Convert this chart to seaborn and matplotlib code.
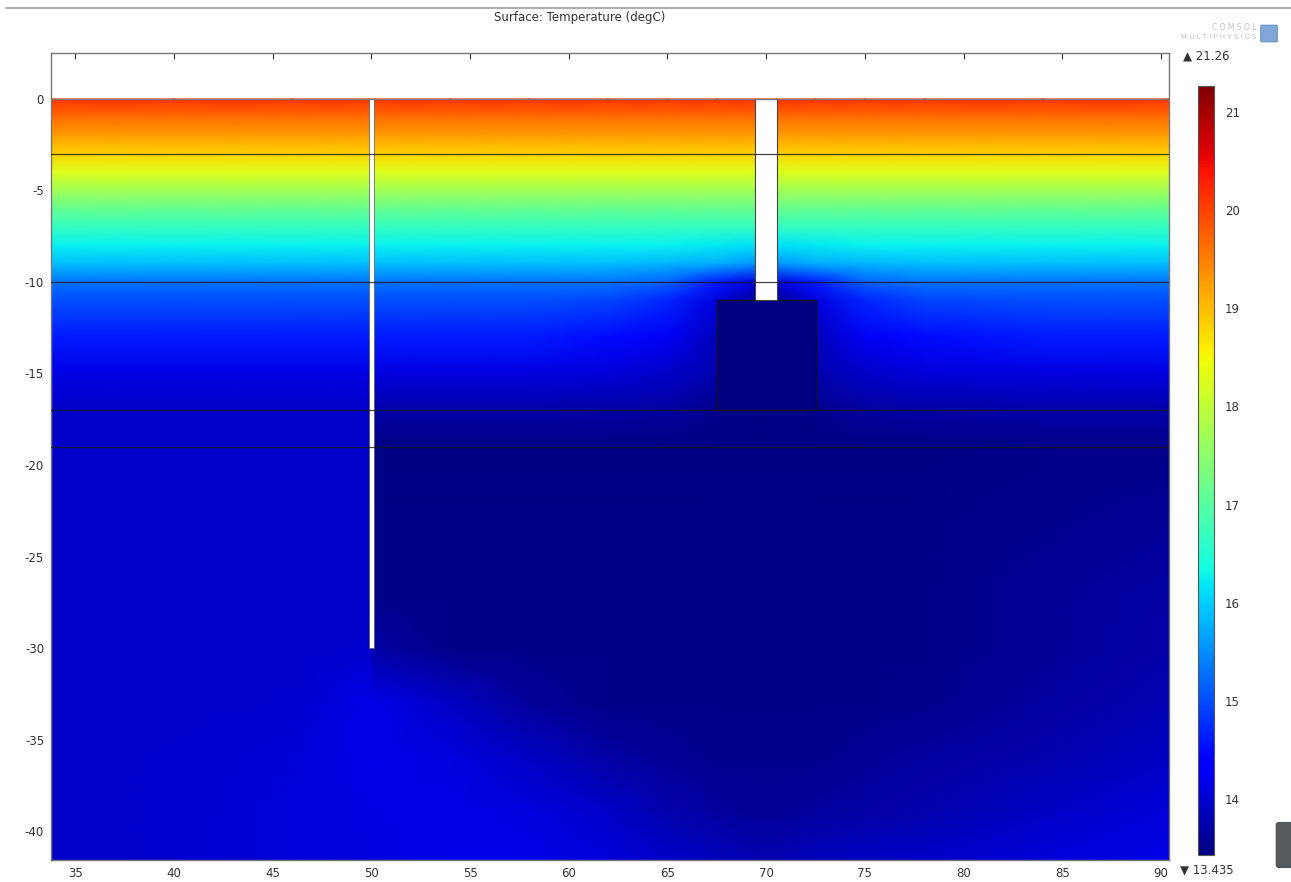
import numpy as np
import pandas as pd
import matplotlib
matplotlib.use("Agg")
import matplotlib.pyplot as plt
import seaborn as sns
from matplotlib.colors import Normalize
from matplotlib.patches import Rectangle, FancyBboxPatch
from matplotlib.lines import Line2D

# ---------------- data ----------------
title = "Surface: Temperature (degC)"
t_min, t_max = 13.435, 21.26
cbar_ticks = [14, 15, 16, 17, 18, 19, 20, 21]
x_ticks = [35, 40, 45, 50, 55, 60, 65, 70, 75, 80, 85, 90]
y_ticks = [0, -5, -10, -15, -20, -25, -30, -35, -40]

# sample columns (x, m) and rows (depth, m) of the temperature field
x_nodes = [33.78, 40, 46, 49.9, 50.15, 54, 58, 62, 65, 67.5, 69.45, 70.55, 72.5, 75, 78, 84, 90.4]
y_nodes = [0, -1, -2, -3, -4, -5, -6, -7, -8, -9, -10, -11, -13, -15, -17, -19,
           -23, -27, -30, -33, -36, -39, -41.58]

temperature = [
    [20.1] * 17,
    [19.65] * 17,
    [19.25] * 17,
    [18.8] * 17,
    [18.25] * 17,
    [17.7] * 17,
    [17.15] * 17,
    [16.65] * 17,
    [16.25, 16.25, 16.25, 16.25, 16.25, 16.25, 16.25, 16.25, 16.25, 16.2, 16.15, 16.15, 16.2, 16.25, 16.25, 16.25, 16.25],
    [15.85, 15.85, 15.85, 15.85, 15.85, 15.85, 15.85, 15.85, 15.8, 15.75, 15.55, 15.55, 15.75, 15.8, 15.85, 15.85, 15.85],
    [15.3, 15.3, 15.3, 15.3, 15.3, 15.3, 15.3, 15.3, 15.15, 14.6, 14.1, 14.1, 14.6, 15.15, 15.3, 15.3, 15.3],
    [15.0, 15.0, 15.0, 15.0, 15.0, 15.0, 15.0, 14.95, 14.7, 14.1, 13.6, 13.6, 14.1, 14.7, 14.95, 15.0, 15.0],
    [14.6, 14.6, 14.6, 14.6, 14.6, 14.6, 14.6, 14.5, 14.25, 13.85, 13.5, 13.5, 13.85, 14.25, 14.5, 14.6, 14.6],
    [14.13, 14.13, 14.13, 14.13, 14.1, 14.1, 14.08, 14.05, 13.95, 13.75, 13.5, 13.5, 13.75, 13.95, 14.05, 14.1, 14.13],
    [13.95, 13.95, 13.95, 13.95, 13.72, 13.72, 13.72, 13.7, 13.65, 13.55, 13.5, 13.5, 13.55, 13.65, 13.7, 13.72, 13.72],
    [13.95, 13.95, 13.95, 13.95, 13.47, 13.47, 13.47, 13.47, 13.47, 13.47, 13.47, 13.47, 13.47, 13.47, 13.48, 13.5, 13.52],
    [13.95, 13.95, 13.95, 13.95, 13.5, 13.5, 13.5, 13.5, 13.5, 13.5, 13.5, 13.5, 13.5, 13.5, 13.5, 13.55, 13.6],
    [13.95, 13.95, 13.95, 13.95, 13.52, 13.5, 13.5, 13.5, 13.5, 13.5, 13.5, 13.5, 13.5, 13.5, 13.52, 13.6, 13.68],
    [13.95, 13.95, 13.95, 13.98, 13.7, 13.5, 13.5, 13.5, 13.5, 13.5, 13.5, 13.5, 13.5, 13.5, 13.52, 13.6, 13.72],
    [13.95, 13.95, 13.98, 14.15, 14.15, 13.9, 13.62, 13.5, 13.5, 13.5, 13.5, 13.5, 13.5, 13.5, 13.55, 13.65, 13.8],
    [13.95, 13.96, 14.02, 14.15, 14.15, 14.1, 13.9, 13.7, 13.6, 13.55, 13.55, 13.55, 13.55, 13.6, 13.65, 13.75, 13.9],
    [13.95, 13.97, 14.05, 14.12, 14.12, 14.15, 14.1, 13.95, 13.75, 13.65, 13.6, 13.6, 13.65, 13.7, 13.75, 13.9, 14.05],
    [13.95, 13.98, 14.05, 14.1, 14.1, 14.15, 14.15, 14.05, 13.95, 13.85, 13.8, 13.8, 13.85, 13.9, 13.95, 14.05, 14.15],
]

box_temperature = 13.45
layer_depths = [-3, -10, -17, -19]

# geometry of the model
well_x = [49.9, 50.15]
well_bottom = -30
pipe_x = [69.45, 70.55]
pipe_bottom = -11
box_x = [67.5, 72.5]
box_y = [-17, -11]
x_lim = [33.78, 90.4]
y_lim = [-41.58, 2.51]

# ---------------- figure ----------------
sns.set_theme(style="ticks")
plt.rcParams["font.family"] = ["DejaVu Sans"]
plt.rcParams["axes.unicode_minus"] = False
plt.rcParams["axes.edgecolor"] = "#777777"

W, H = 1291, 882
fig = plt.figure(figsize=(W / 100, H / 100), dpi=100)
fig.patch.set_facecolor("white")
ax = fig.add_axes([51 / W, 1 - 860 / H, (1169 - 51) / W, (860 - 53) / H])
cax = fig.add_axes([1198 / W, 1 - 855 / H, 16 / W, (855 - 86) / H])
ax.set_facecolor("white")

cmap = plt.get_cmap("jet")
norm = Normalize(vmin=t_min, vmax=t_max)

X, Y = np.meshgrid(np.array(x_nodes), np.array(y_nodes))
Z = np.array(temperature)
mesh = ax.pcolormesh(X, Y, Z, shading="gouraud", cmap=cmap, norm=norm, zorder=1)

# cold box
ax.add_patch(Rectangle((box_x[0], box_y[0]), box_x[1] - box_x[0], box_y[1] - box_y[0],
                       facecolor=cmap(norm(box_temperature)), edgecolor="#111111",
                       lw=0.9, zorder=2))
# well and pipe (not part of the domain)
ax.add_patch(Rectangle((well_x[0], well_bottom), well_x[1] - well_x[0], -well_bottom,
                       facecolor="white", edgecolor="#555555", lw=0.5, zorder=3))
ax.add_patch(Rectangle((pipe_x[0], pipe_bottom), pipe_x[1] - pipe_x[0], -pipe_bottom,
                       facecolor="white", edgecolor="#444444", lw=0.8, zorder=3))

# layer boundaries drawn through seaborn
layers = pd.DataFrame({
    "x": [x_lim[0], x_lim[1]] * len(layer_depths),
    "y": [d for d in layer_depths for _ in range(2)],
    "layer": [i for i in range(len(layer_depths)) for _ in range(2)],
})
sns.lineplot(data=layers, x="x", y="y", units="layer", estimator=None,
             color="#1a1a1a", lw=0.9, alpha=0.8, ax=ax, zorder=4, legend=False)
ax.axhline(0, color="#777777", lw=0.9, zorder=4)

ax.set_xlim(x_lim)
ax.set_ylim(y_lim)
ax.set_xticks(x_ticks)
ax.set_yticks(y_ticks)
ax.set_xlabel("")
ax.set_ylabel("")
ax.tick_params(direction="in", length=4, width=0.8, color="#333333",
               top=True, right=True, labelsize=8.5, labelcolor="#333333", pad=5)
for s in ax.spines.values():
    s.set_color("#777777")
    s.set_linewidth(1.0)

# colorbar
cb = fig.colorbar(mesh, cax=cax, ticks=cbar_ticks)
cb.outline.set_edgecolor("#555555")
cb.outline.set_linewidth(0.8)
cax.tick_params(direction="in", length=3, width=0.8, left=True, right=True,
                labelsize=8.5, labelcolor="#333333", color="#333333", pad=8)
cax.set_yticklabels([str(t) for t in cbar_ticks])

fig.text(1183 / W, 1 - 56 / H, "\u25b2 " + f"{t_max:.2f}", fontsize=8.5, color="#333333",
         ha="left", va="center")
fig.text(1180 / W, 1 - 870 / H, "\u25bc " + f"{t_min:.3f}", fontsize=8.5, color="#333333",
         ha="left", va="center")

# title and frame line
fig.text(580 / W, 1 - 18 / H, title, fontsize=8.5, color="#333333", ha="center", va="center")
fig.add_artist(Line2D([6 / W, 1.0], [1 - 8 / H, 1 - 8 / H], color="#a0a0a0", lw=1.2,
                      transform=fig.transFigure))

# COMSOL logo
fig.text(1256 / W, 1 - 28 / H, "C O M S O L", fontsize=5.5, color="#b8c2d4", ha="right", va="center")
fig.text(1256 / W, 1 - 37 / H, "M U L T I P H Y S I C S", fontsize=5.0, color="#b8c2d4",
         ha="right", va="center")
fig.add_artist(FancyBboxPatch((1262 / W, 1 - 41 / H), 14 / W, 15 / H,
                              boxstyle="round,pad=0.001", facecolor="#7fa6d6",
                              edgecolor="#5a86c0", lw=0.6, transform=fig.transFigure))
fig.add_artist(FancyBboxPatch((1280 / W, 1 - 865 / H), 16 / W, 40 / H,
                              boxstyle="round,pad=0.003", facecolor="#555a5e",
                              edgecolor="#444444", lw=0.6, transform=fig.transFigure))

fig.savefig("out.png", dpi=100, facecolor="white")
